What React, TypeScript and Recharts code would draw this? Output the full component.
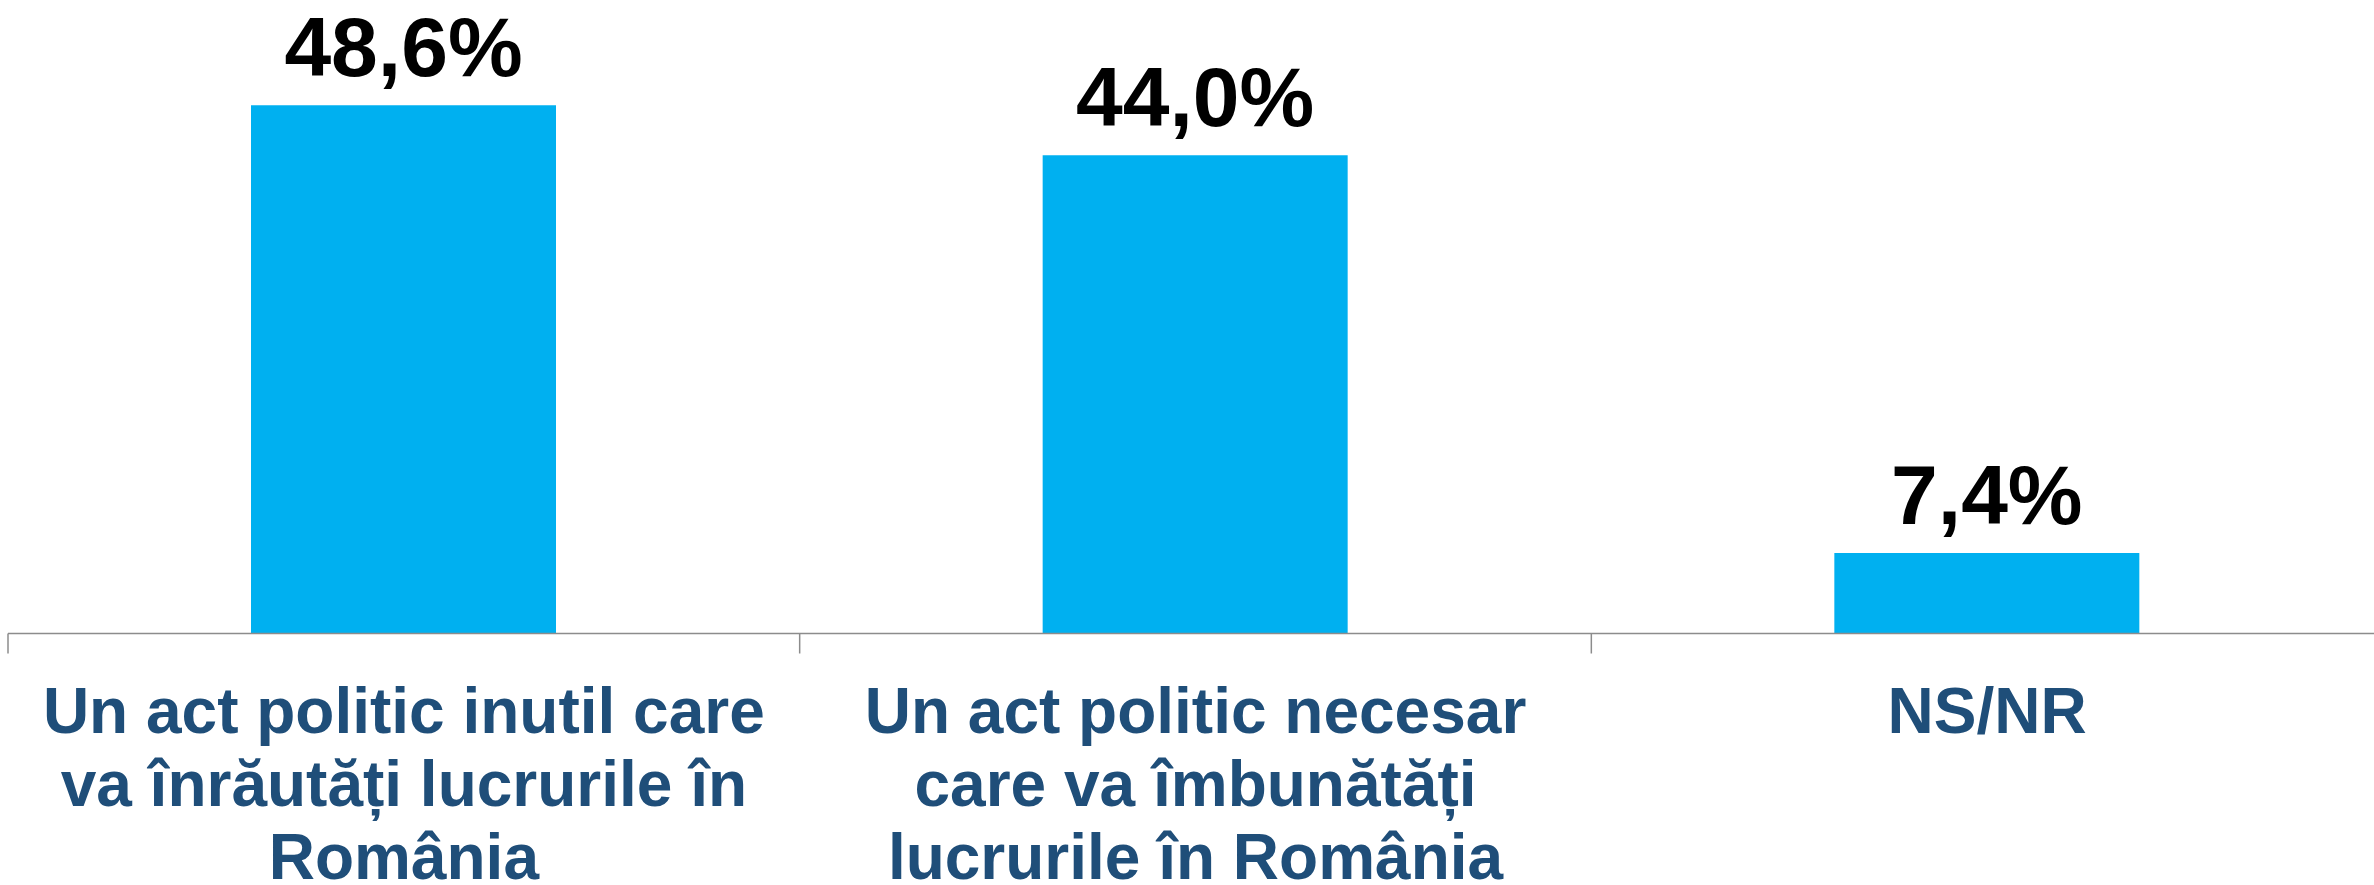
import React from 'react';
import { BarChart, Bar, XAxis, YAxis, LabelList } from 'recharts';

const categories = ['inutil', 'necesar', 'nsnr'];
const categoryLines = [
  ['Un act politic inutil care', 'va înrăutăți lucrurile în', 'România'],
  ['Un act politic necesar', 'care va îmbunătăți', 'lucrurile în România'],
  ['NS/NR'],
];
const values = [48.6, 44.0, 7.4];

const data = categories.map((c, i) => ({ key: c, idx: i, value: values[i] }));

const FONT = '"Liberation Sans", Arial, Helvetica, sans-serif';
const BAR_COLOR = '#00B0F0';
const LABEL_COLOR = '#1F4E79';

const CategoryTick = (props: any) => {
  const { x, y, payload } = props;
  const half = payload && payload.offset ? payload.offset : 395.8;
  const lines = categoryLines[payload.index] || [];
  return (
    <g>
      <line x1={x - half} y1={y} x2={x - half} y2={y + 20} stroke="#8c8c8c" strokeWidth={1.5} />
      <text
        x={x}
        y={y + 99}
        textAnchor="middle"
        fontFamily={FONT}
        fontWeight="bold"
        fontSize={64}
        fill={LABEL_COLOR}
      >
        {lines.map((l, i) => (
          <tspan key={i} x={x} dy={i === 0 ? 0 : 73}>
            {l}
          </tspan>
        ))}
      </text>
    </g>
  );
};

const ValueLabel = (props: any) => {
  const { x, y, width, value } = props;
  return (
    <text
      x={x + width / 2}
      y={y - 29}
      textAnchor="middle"
      fontFamily={FONT}
      fontWeight="bold"
      fontSize={84}
      fill="#000"
    >
      {Number(value).toFixed(1).replace('.', ',') + '%'}
    </text>
  );
};

export default function App() {
  return (
    <div style={{ width: 2374, height: 885, overflow: 'hidden', background: '#fff' }}>
      <style>{'body{margin:0;overflow:hidden;}'}</style>
      <BarChart
        width={2383}
        height={885}
        data={data}
        margin={{ top: 90, right: 0, left: 8, bottom: 0 }}
      >
        <XAxis
          dataKey="key"
          height={251.5}
          axisLine={{ stroke: '#8c8c8c', strokeWidth: 1.5 }}
          tickLine={false}
          tickSize={0}
          tickMargin={0}
          interval={0}
          tick={<CategoryTick />}
        />
        <YAxis hide domain={[0, 50]} />
        <Bar dataKey="value" fill={BAR_COLOR} barSize={305} isAnimationActive={false}>
          <LabelList dataKey="value" content={<ValueLabel />} />
        </Bar>
      </BarChart>
    </div>
  );
}
